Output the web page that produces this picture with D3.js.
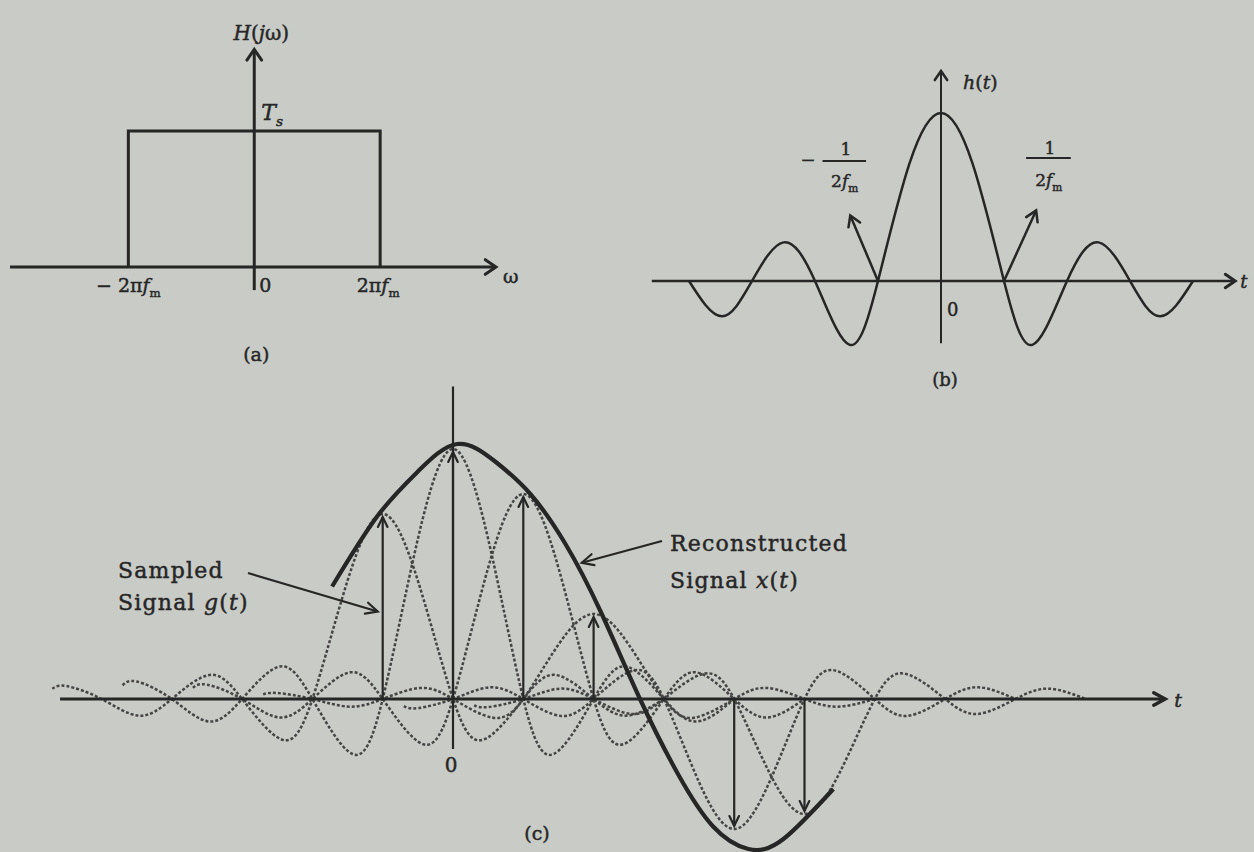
<!DOCTYPE html>
<html>
<head>
<meta charset="utf-8">
<script src="https://cdn.jsdelivr.net/npm/d3@7"></script>
<style>
  html, body { margin: 0; padding: 0; background: #c8cbc6; }
  svg { display: block; }
  text { font-family: "DejaVu Serif", "Liberation Serif", serif; fill: #262626; stroke: #262626; stroke-width: 0.45; }
</style>
</head>
<body>
<svg id="fig" width="1254" height="852"></svg>
<script>
// ---------- (a) ideal low-pass filter H(jω); ω in units of 2πf_m ----------
const filterEdges = [-1, 1];
const filterGain = 1;               // passband height T_s

// ---------- (b) interpolating pulse h(t); t in units of 1/(2f_m) ----------
const pulseT = [-4, -3.48, -3, -2.5, -2, -1.45, -1, -0.5, 0, 0.5, 1, 1.45, 2, 2.5, 3, 3.48, 4];
const pulseH = [0, -0.21, 0, 0.23, 0, -0.38, 0, 0.70, 1, 0.70, 0, -0.38, 0, 0.23, 0, -0.21, 0];

// ---------- (c) samples, their shifted pulses and the reconstruction ----------
const sampleN = [-1, 0, 1, 2, 3, 4, 5];
const sampleV = [0.74, 1.0, 0.82, 0.34, 0, -0.52, -0.46];

// normalised pulse used for every sample (offset in sample periods)
const interpT = [-4.7, -4.5, -4, -3.47, -3, -2.46, -2, -1.43, -1, -0.5, 0, 0.5, 1, 1.43, 2, 2.46, 3, 3.47, 4];
const interpV = [0.055, 0.07, 0, -0.09, 0, 0.13, 0, -0.22, 0, 0.64, 1, 0.64, 0, -0.22, 0, 0.13, 0, -0.09, 0];

// reconstructed signal x(t)
const reconT = [-1.72, -1.08, -0.5, 0.06, 0.6, 1.1, 1.6, 2.1, 2.66, 3.2, 3.7, 4.2, 4.7, 5.41];
const reconV = [0.45, 0.73, 0.91, 1.02, 0.95, 0.82, 0.62, 0.35, 0, -0.30, -0.51, -0.60, -0.56, -0.36];

const INK = "#262626";
const DASH = "#454545";
const svg = d3.select("#fig");

// open chevron arrowhead pointing along angle (radians) with its tip at (x, y)
function chevron(g, x, y, angle, len, spread, width) {
  const pts = [angle + Math.PI - spread, angle + Math.PI + spread].map(a => [x + len * Math.cos(a), y + len * Math.sin(a)]);
  g.append("path")
    .attr("d", `M${pts[0][0]},${pts[0][1]}L${x},${y}L${pts[1][0]},${pts[1][1]}`)
    .attr("fill", "none").attr("stroke", INK).attr("stroke-width", width)
    .attr("stroke-linejoin", "miter").attr("stroke-linecap", "round");
}
function arrow(g, x1, y1, x2, y2, width, len, spread) {
  g.append("line").attr("x1", x1).attr("y1", y1).attr("x2", x2).attr("y2", y2)
    .attr("stroke", INK).attr("stroke-width", width);
  chevron(g, x2, y2, Math.atan2(y2 - y1, x2 - x1), len, spread, width);
}
function label(g, x, y, parts, size, anchor) {
  const t = g.append("text").attr("x", x).attr("y", y).attr("font-size", size)
    .attr("text-anchor", anchor || "start");
  parts.forEach(p => {
    const s = t.append("tspan").text(p.t);
    if (p.i) s.attr("font-style", "italic");
    if (p.sub) s.attr("font-size", size * 0.62).attr("dy", size * 0.28);
  });
  return t;
}

// ================= (a) =================
const ga = svg.append("g");
const xa = d3.scaleLinear().domain([-1.94, 1.92]).range([10, 496]);
const ya = d3.scaleLinear().domain([0, 1]).range([267, 131]);

ga.append("line").attr("x1", xa(-1.94)).attr("x2", xa(1.90)).attr("y1", ya(0)).attr("y2", ya(0))
  .attr("stroke", INK).attr("stroke-width", 3);
chevron(ga, xa(1.92), ya(0), 0, 13, 0.6, 3);
ga.append("line").attr("x1", xa(0)).attr("x2", xa(0)).attr("y1", ya(-0.17)).attr("y2", ya(1.6))
  .attr("stroke", INK).attr("stroke-width", 3);
chevron(ga, xa(0), ya(1.6), -Math.PI / 2, 13, 0.6, 3);

ga.append("path")
  .attr("d", d3.line()([[xa(filterEdges[0]), ya(0)], [xa(filterEdges[0]), ya(filterGain)],
                         [xa(filterEdges[1]), ya(filterGain)], [xa(filterEdges[1]), ya(0)]]))
  .attr("fill", "none").attr("stroke", INK).attr("stroke-width", 3);

label(ga, xa(0) + 7, 40, [{t: "H", i: 1}, {t: "("}, {t: "j", i: 1}, {t: "ω)"}], 20, "middle");
label(ga, xa(0) + 7, 120, [{t: "T", i: 1}, {t: "s", i: 1, sub: 1}], 22);
label(ga, xa(filterEdges[0]), 292, [{t: "− 2π"}, {t: "f", i: 1}, {t: "m", sub: 1}], 19, "middle");
label(ga, xa(0) + 5, 292, [{t: "0"}], 19);
label(ga, xa(filterEdges[1]) - 2, 292, [{t: "2π"}, {t: "f", i: 1}, {t: "m", sub: 1}], 19, "middle");
label(ga, xa(1.92) + 7, 283, [{t: "ω"}], 19);
label(ga, xa(0) + 2, 361, [{t: "(a)"}], 19, "middle");

// ================= (b) =================
const gb = svg.append("g");
const xb = d3.scaleLinear().domain([0, 1]).range([941, 1004]);
const yb = d3.scaleLinear().domain([0, 1]).range([281, 113]);

gb.append("line").attr("x1", xb(-4.59)).attr("x2", xb(4.64)).attr("y1", yb(0)).attr("y2", yb(0))
  .attr("stroke", INK).attr("stroke-width", 2.5);
chevron(gb, xb(4.67), yb(0), 0, 12, 0.6, 3);
gb.append("line").attr("x1", xb(0)).attr("x2", xb(0)).attr("y1", yb(-0.37)).attr("y2", yb(1.25))
  .attr("stroke", INK).attr("stroke-width", 2);
chevron(gb, xb(0), yb(1.25), -Math.PI / 2, 11, 0.6, 2.5);

gb.append("path")
  .attr("d", d3.line().x(d => xb(d[0])).y(d => yb(d[1])).curve(d3.curveNatural)(d3.zip(pulseT, pulseH)))
  .attr("fill", "none").attr("stroke", INK).attr("stroke-width", 2.5);

arrow(gb, xb(-1), yb(0), xb(-1.44), yb(0.39), 2.5, 12, 0.55);
arrow(gb, xb(1), yb(0), xb(1.51), yb(0.42), 2.5, 12, 0.55);

label(gb, xb(0) + 22, 89, [{t: "h", i: 1}, {t: "("}, {t: "t", i: 1}, {t: ")"}], 19);
label(gb, xb(0) + 6, 316, [{t: "0"}], 18);
label(gb, xb(0) + 4, 386, [{t: "(b)"}], 18, "middle");
label(gb, xb(4.67) + 5, 288, [{t: "t", i: 1}], 18);

// fractions ±1/(2f_m)
label(gb, xb(-2.11), 166, [{t: "−"}], 18, "middle");
label(gb, xb(-1.51), 155, [{t: "1"}], 17, "middle");
gb.append("line").attr("x1", xb(-1.88)).attr("x2", xb(-1.19)).attr("y1", 161).attr("y2", 161)
  .attr("stroke", INK).attr("stroke-width", 2);
label(gb, xb(-1.53), 187, [{t: "2"}, {t: "f", i: 1}, {t: "m", sub: 1}], 17, "middle");
label(gb, xb(1.73), 154, [{t: "1"}], 17, "middle");
gb.append("line").attr("x1", xb(1.35)).attr("x2", xb(2.06)).attr("y1", 158).attr("y2", 158)
  .attr("stroke", INK).attr("stroke-width", 2);
label(gb, xb(1.71), 186, [{t: "2"}, {t: "f", i: 1}, {t: "m", sub: 1}], 17, "middle");

// ================= (c) =================
const gc = svg.append("g");
const xc = d3.scaleLinear().domain([0, 1]).range([453, 523.3]);
const yc = d3.scaleLinear().domain([0, 1]).range([699, 449]);
const samples = d3.zip(sampleN, sampleV).filter(d => d[1] !== 0);

// shifted, scaled pulses (dotted)
const pulseLine = d3.line().curve(d3.curveNatural);
gc.selectAll("path.pulse").data(samples).join("path").attr("class", "pulse")
  .attr("d", d => pulseLine(d3.zip(interpT, interpV).map(p => [xc(d[0] + p[0]), yc(d[1] * p[1])])))
  .attr("fill", "none").attr("stroke", DASH).attr("stroke-width", 2.5)
  .attr("stroke-dasharray", "3,2");

// axes
gc.append("line").attr("x1", xc(-5.59)).attr("x2", xc(10.08)).attr("y1", yc(0)).attr("y2", yc(0))
  .attr("stroke", INK).attr("stroke-width", 3);
chevron(gc, xc(10.13), yc(0), 0, 13, 0.5, 3.5);
gc.append("line").attr("x1", xc(0)).attr("x2", xc(0)).attr("y1", yc(1.25)).attr("y2", yc(-0.2))
  .attr("stroke", INK).attr("stroke-width", 2.2);

// sample impulses
samples.forEach(d => {
  const tip = yc(d[1]) + (d[1] > 0 ? 3 : -3);
  arrow(gc, xc(d[0]), yc(0), xc(d[0]), tip, 2.2, 11, 0.45);
});

// reconstructed signal
gc.append("path")
  .attr("d", d3.line().x(d => xc(d[0])).y(d => yc(d[1])).curve(d3.curveNatural)(d3.zip(reconT, reconV)))
  .attr("fill", "none").attr("stroke", INK).attr("stroke-width", 4.2).attr("stroke-linecap", "butt");

// annotations
arrow(gc, 248, 573, xc(-1) - 5, yc(0.35), 2.2, 13, 0.45);
arrow(gc, 662, 541, xc(1.76) + 5, yc(0.545), 2.2, 13, 0.45);

const noteStyle = t => t.attr("letter-spacing", 1.2);
noteStyle(label(gc, 118, 578, [{t: "Sampled"}], 22));
noteStyle(label(gc, 118, 610, [{t: "Signal "}, {t: "g", i: 1}, {t: "("}, {t: "t", i: 1}, {t: ")"}], 22));
noteStyle(label(gc, 670, 551, [{t: "Reconstructed"}], 22));
noteStyle(label(gc, 670, 588, [{t: "Signal "}, {t: "x", i: 1}, {t: "("}, {t: "t", i: 1}, {t: ")"}], 22));

label(gc, xc(0) - 2, 772, [{t: "0"}], 20, "middle");
label(gc, 537, 840, [{t: "(c)"}], 19, "middle");
label(gc, xc(10.13) + 9, 707, [{t: "t", i: 1}], 19);
</script>
</body>
</html>
